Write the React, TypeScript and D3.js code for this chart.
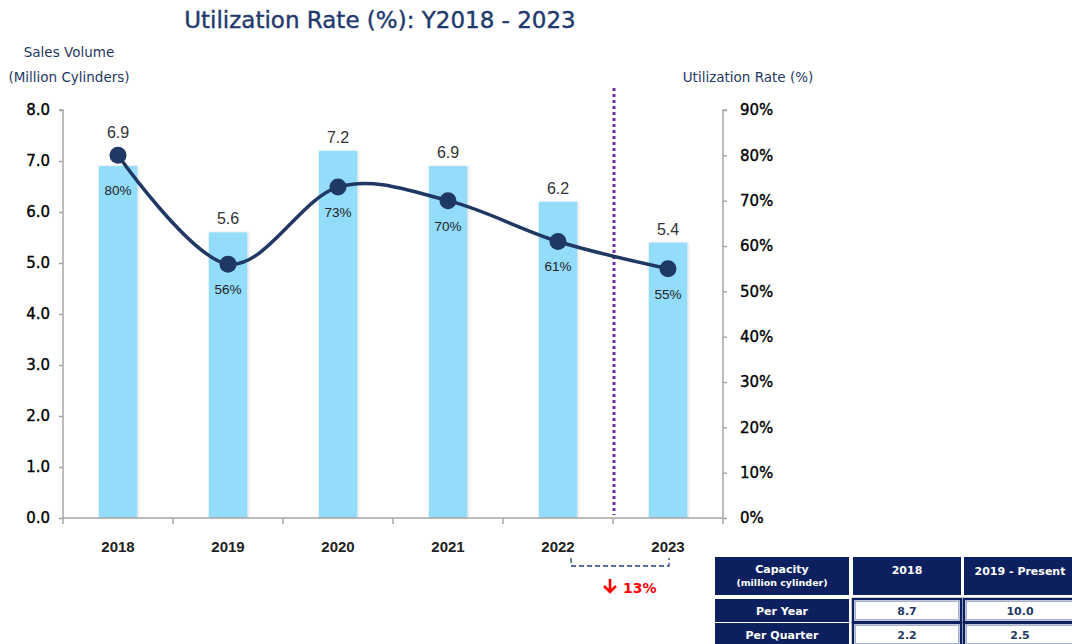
import React, { useEffect, useRef } from "react";
import * as d3 from "d3";

const years = ["2018", "2019", "2020", "2021", "2022", "2023"];
const salesVolume = [6.9, 5.6, 7.2, 6.9, 6.2, 5.4];
const utilization = [80, 56, 73, 70, 61, 55];
const leftTicks = [0, 1, 2, 3, 4, 5, 6, 7, 8];
const rightTicks = [0, 10, 20, 30, 40, 50, 60, 70, 80, 90];

const tableHeader = ["Capacity", "2018", "2019 - Present"];
const tableRows = ["Per Year", "Per Quarter"];
const capacity2018 = [8.7, 2.2];
const capacityPresent = [10.0, 2.5];
const dropLabel = "13%";

const W = 1072;
const H = 644;
const NAVY = "#1f3864";
const TAHOMA = "'DejaVu Sans', Verdana, sans-serif";
const ARIAL = "'Liberation Sans', Arial, sans-serif";

export default function App() {
    const ref = useRef<SVGSVGElement>(null);

    useEffect(() => {
        const svg = d3.select(ref.current);
        svg.selectAll("*").remove();

        const left = 63, right = 723, top = 110, bottom = 518;

        const x = d3.scaleBand().domain(years).range([left, right]).paddingInner(0.65).paddingOuter(0.325);
        const xBand = d3.scaleBand().domain(years).range([left, right]);
        const yL = d3.scaleLinear().domain([0, 8]).range([bottom, top]);
        const yR = d3.scaleLinear().domain([0, 90]).range([bottom, top]);
        const cx = (i: number) => (xBand(years[i]) as number) + xBand.bandwidth() / 2;

        // title + axis captions
        svg.append("text").attr("x", 380).attr("y", 28).attr("text-anchor", "middle")
            .style("font-family", TAHOMA).style("font-size", "23px").style("fill", "#1f3a6e")
            .style("stroke", "#1f3a6e").style("stroke-width", 0.4)
            .text("Utilization Rate (%): Y2018 - 2023");
        const caption = (xx: number, yy: number, s: string) =>
            svg.append("text").attr("x", xx).attr("y", yy).attr("text-anchor", "middle")
                .style("font-family", TAHOMA).style("font-size", "13.5px").style("fill", NAVY).text(s);
        caption(69, 57, "Sales Volume");
        caption(69, 82, "(Million Cylinders)");
        caption(748, 82, "Utilization Rate (%)");

        // bars
        svg.append("defs").append("filter").attr("id", "shadow")
            .append("feDropShadow").attr("dx", 1).attr("dy", 0).attr("stdDeviation", 1.2)
            .attr("flood-color", "#000").attr("flood-opacity", 0.18);
        svg.selectAll(".bar").data(salesVolume).enter().append("rect")
            .attr("x", (d, i) => x(years[i]) as number)
            .attr("y", d => yL(d))
            .attr("width", x.bandwidth())
            .attr("height", d => bottom - yL(d))
            .attr("filter", "url(#shadow)")
            .style("fill", "#93dcfa");

        // axes
        const axisColor = "#a6a6a6";
        const gL = svg.append("g").attr("transform", `translate(${left},0)`)
            .call(d3.axisLeft(yL).tickValues(leftTicks).tickSize(4).tickPadding(9).tickFormat(d3.format(".1f")));
        const gR = svg.append("g").attr("transform", `translate(${right},0)`)
            .call(d3.axisRight(yR).tickValues(rightTicks).tickSize(4).tickPadding(13).tickFormat(d => `${d}%`));
        [gL, gR].forEach(g => {
            g.select(".domain").attr("stroke", axisColor).attr("stroke-width", 1.5);
            g.selectAll(".tick line").attr("stroke", axisColor).attr("stroke-width", 1.5);
            g.selectAll(".tick text").style("font-family", TAHOMA).style("font-size", "15px")
                .style("fill", "#000").style("stroke", "#000").style("stroke-width", 0.35);
        });
        gL.select(".domain").attr("d", `M-4,${top}H0V${bottom}`);
        gR.select(".domain").attr("d", `M4,${top}H0V${bottom}`);

        svg.append("line").attr("x1", left).attr("x2", right).attr("y1", bottom).attr("y2", bottom)
            .attr("stroke", axisColor).attr("stroke-width", 1.5);
        svg.selectAll(".xtick").data(d3.range(years.length + 1)).enter().append("line")
            .attr("x1", i => left + i * xBand.bandwidth()).attr("x2", i => left + i * xBand.bandwidth())
            .attr("y1", bottom).attr("y2", bottom + 6)
            .attr("stroke", axisColor).attr("stroke-width", 1.5);
        svg.selectAll(".xlabel").data(years).enter().append("text")
            .attr("x", (d, i) => cx(i)).attr("y", 552).attr("text-anchor", "middle")
            .style("font-family", ARIAL).style("font-size", "15px").style("font-weight", "bold").style("fill", "#222")
            .text(d => d);

        // dotted divider
        const divX = left + 5 * xBand.bandwidth() + 1;
        svg.append("line").attr("x1", divX).attr("x2", divX).attr("y1", 88).attr("y2", 515)
            .attr("stroke", "#7030a0").attr("stroke-width", 3).attr("stroke-dasharray", "3,3");

        // utilization line
        const pts: [number, number][] = utilization.map((v, i) => [cx(i), yR(v)]);
        svg.append("path").datum(pts)
            .attr("d", d3.line().curve(d3.curveCardinal.tension(0)))
            .attr("fill", "none").attr("stroke", NAVY).attr("stroke-width", 3.5);
        svg.selectAll(".dot").data(pts).enter().append("circle")
            .attr("cx", d => d[0]).attr("cy", d => d[1]).attr("r", 8.5).style("fill", NAVY);

        // value labels
        svg.selectAll(".vlabel").data(salesVolume).enter().append("text")
            .attr("x", (d, i) => cx(i))
            .attr("y", (d, i) => Math.min(yL(d), pts[i][1] - 9) - 8)
            .attr("text-anchor", "middle")
            .style("font-family", ARIAL).style("font-size", "16px").style("fill", "#333")
            .text(d => d.toFixed(1));
        svg.selectAll(".plabel").data(utilization).enter().append("text")
            .attr("x", (d, i) => cx(i))
            .attr("y", (d, i) => Math.max(pts[i][1] + 30, yL(salesVolume[i]) + 29))
            .attr("text-anchor", "middle")
            .style("font-family", ARIAL).style("font-size", "13.5px").style("fill", "#222")
            .text(d => `${d}%`);

        // bracket + drop
        const bx1 = cx(4) + 13, bx2 = cx(5) + 1;
        svg.append("path").attr("d", `M${bx1},558V566H${bx2}V558`)
            .attr("fill", "none").attr("stroke", "#23408f").attr("stroke-width", 1.3).attr("stroke-dasharray", "5,3");
        svg.append("path").attr("d", "M610,579V592M604,586L610,592L616,586")
            .attr("fill", "none").attr("stroke", "#ff0000").attr("stroke-width", 2.6);
        svg.append("text").attr("x", 623).attr("y", 593)
            .style("font-family", TAHOMA).style("font-size", "14px").style("font-weight", "bold").style("fill", "#ff0000")
            .text(dropLabel);

        // capacity table
        const cols = [[715, 134], [853, 108], [964, 112]];
        const rowsY = [[557, 38], [599, 23], [623, 23]];
        const tbl = svg.append("g");
        const cell = (c: number, r: number, dark: boolean) => {
            const [cxp, cw] = cols[c];
            const [ryp, rh] = rowsY[r];
            tbl.append("rect").attr("x", cxp).attr("y", ryp).attr("width", cw).attr("height", rh)
                .attr("fill", dark ? "#0c1f5e" : "#fff").attr("stroke", "#0c1f5e").attr("stroke-width", dark ? 0 : 2.5);
            if (!dark) {
                tbl.append("rect").attr("x", cxp + 2.5).attr("y", ryp + 2.5).attr("width", cw - 5).attr("height", rh - 5)
                    .attr("fill", "none").attr("stroke", "#8fa0c8").attr("stroke-width", 0.8);
            }
        };
        const txt = (x0: number, y0: number, s: string, color: string, size = 11) =>
            tbl.append("text").attr("x", x0).attr("y", y0).attr("text-anchor", "middle")
                .style("font-family", TAHOMA).style("font-size", `${size}px`).style("font-weight", "bold").style("fill", color).text(s);

        for (let c = 0; c < 3; c++) cell(c, 0, true);
        tableRows.forEach((r, i) => { cell(0, i + 1, true); cell(1, i + 1, false); cell(2, i + 1, false); });
        txt(782, 573, tableHeader[0], "#fff");
        txt(782, 586, "(million cylinder)", "#fff", 9.5);
        txt(907, 574, tableHeader[1], "#fff");
        txt(1020, 575, tableHeader[2], "#fff");
        tableRows.forEach((r, i) => {
            const yy = rowsY[i + 1][0] + 16;
            txt(782, yy, r, "#fff");
            txt(907, yy, capacity2018[i].toFixed(1), NAVY);
            txt(1020, yy, capacityPresent[i].toFixed(1), NAVY);
        });
    }, []);

    return (
        <svg ref={ref} width={W} height={H}
            style={{ position: "absolute", left: 0, top: 0, background: "#fff" }} />
    );
}
